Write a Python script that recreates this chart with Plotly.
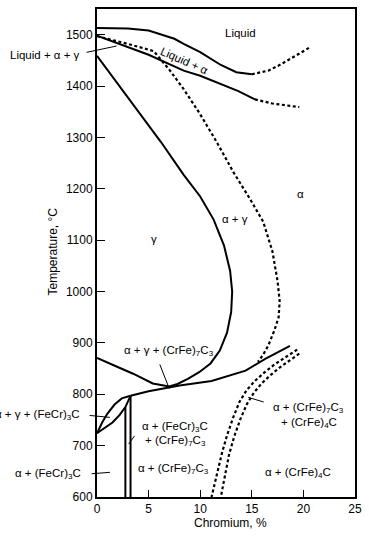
import plotly.graph_objects as go

# ---------------- data (Cr %, Temperature °C) ----------------
liq_x = [0, 3, 5, 7.5, 8.4, 10, 12, 13.5, 15]
liq_t = [1513, 1512, 1508, 1492, 1482, 1466, 1441, 1427, 1423]
liq_dash_x = [15, 16.6, 17.8, 20.6]
liq_dash_t = [1423, 1430, 1442, 1475]

sol_x = [0, 5, 8.4, 10, 13.7, 15.3]
sol_t = [1498, 1461, 1430, 1420, 1390, 1374]
sol_dash_x = [15.3, 17, 19.6]
sol_dash_t = [1374, 1366, 1359]

ag_x = [0, 3, 5.5, 6.2, 7, 8.4, 10, 11.6, 13.2, 14.8, 16.1, 17.0, 17.5, 17.7, 17.6, 17.2, 16.6, 16.1, 15.6]
ag_t = [1497, 1482, 1468, 1452, 1432, 1394, 1345, 1291, 1233, 1181, 1136, 1078, 1020, 981, 950, 925, 895, 877, 863]

gam_x = [0, 2, 4, 6.2, 8.4, 10, 11.3, 12.3, 12.9, 13.1, 13.0, 12.6, 11.9, 11.0, 9.9, 8.8, 7.8, 7.0, 5.4, 3.5, 2, 0]
gam_t = [1459, 1405, 1350, 1291, 1227, 1185, 1140, 1090, 1040, 1000, 960, 920, 885, 860, 843, 830, 820, 815, 821, 840, 853, 871]

d_x = [3.25, 5, 8, 11.1, 14.4, 16.3, 18.7]
d_t = [797, 806, 817, 826, 846, 869, 894]

lens_up_x = [0, 0.5, 1.0, 1.7, 2.4, 3.25]
lens_up_t = [724, 745, 762, 780, 792, 797]
lens_lo_x = [0, 0.8, 1.5, 2.2, 2.75, 3.25]
lens_lo_t = [724, 735, 745, 760, 775, 797]

v1_x = [2.75, 2.75]
v1_t = [600, 775]
v2_x = [3.25, 3.25]
v2_t = [600, 797]

p1_x = [19.4, 18.2, 17.2, 16.2, 15.3, 14.5, 13.8, 13.2, 12.6, 12.1, 11.6, 11.1]
p1_t = [887, 872, 858, 842, 826, 808, 785, 755, 720, 685, 645, 600]
p2_x = [19.6, 18.7, 17.7, 16.8, 16.0, 15.2, 14.5, 13.9, 13.3, 12.8, 12.4, 12.0]
p2_t = [879, 866, 852, 837, 822, 803, 780, 752, 718, 683, 645, 600]

x_ticks = [0, 5, 10, 15, 20, 25]
y_ticks = [600, 700, 800, 900, 1000, 1100, 1200, 1300, 1400, 1500]

# labels inside the plot: (text, x, T, angle)
labels = [
    ("Liquid", 13.9, 1504, 0),
    ("Liquid + α", 8.5, 1449, 24),
    ("γ", 5.56, 1103, 0),
    ("α + γ", 13.4, 1142, 0),
    ("α", 19.7, 1190, 0),
    ("α + γ + (CrFe)<sub>7</sub>C<sub>3</sub>", 7.0, 885, 0),
    ("α + (FeCr)<sub>3</sub>C", 7.57, 737, 0),
    ("+ (CrFe)<sub>7</sub>C<sub>3</sub>", 7.6, 709, 0),
    ("α + (CrFe)<sub>7</sub>C<sub>3</sub>", 7.4, 654, 0),
    ("α + (CrFe)<sub>7</sub>C<sub>3</sub>", 20.5, 774, 0),
    ("+ (CrFe)<sub>4</sub>C", 20.5, 745, 0),
    ("α + (CrFe)<sub>4</sub>C", 19.5, 646, 0),
]
# labels left of the axis: (text, paper x of right edge, T)
side_labels = [
    ("Liquid + α + γ", -0.0575, 1461),
    ("α + γ + (FeCr)<sub>3</sub>C", -0.0575, 759),
    ("α + (FeCr)<sub>3</sub>C", -0.054, 645),
]
# leader lines: (tail x, tail T, tip x, tip T)
leaders = [
    (-1.15, 1465, 1.9, 1478),
    (-0.86, 759, 1.25, 755),
    (-0.67, 645, 1.25, 648),
    (6.03, 861, 7.0, 811),
    (3.74, 722, 3.07, 703),
    (16.3, 784, 14.65, 794),
]

# ---------------- figure ----------------
fig = go.Figure()
solid = dict(color="black", width=2)
dotted = dict(color="black", width=2.2, dash="3px,2.5px")

def add(x, y, line):
    fig.add_trace(go.Scatter(x=x, y=y, mode="lines", line=line, showlegend=False, hoverinfo="skip"))

add(liq_x, liq_t, solid)
add(liq_dash_x, liq_dash_t, dotted)
add(sol_x, sol_t, solid)
add(sol_dash_x, sol_dash_t, dotted)
add(ag_x, ag_t, dotted)
add(gam_x, gam_t, solid)
add(d_x, d_t, solid)
add(lens_up_x, lens_up_t, solid)
add(lens_lo_x, lens_lo_t, solid)
add(v1_x, v1_t, solid)
add(v2_x, v2_t, solid)
add(p1_x, p1_t, dotted)
add(p2_x, p2_t, dotted)

font = dict(family="Arial", size=12, color="black")
sfont = dict(family="Arial", size=11.5, color="black")
anns = []
for text, x, t, ang in labels:
    anns.append(dict(text=text, x=x, y=t, xref="x", yref="y", xanchor="center", yanchor="middle",
                     showarrow=False, textangle=ang, font=sfont))
for text, px, t in side_labels:
    anns.append(dict(text=text, x=px, y=t, xref="paper", yref="y", xanchor="right", yanchor="middle",
                     showarrow=False, font=sfont))
for tx, tt, hx, ht in leaders:
    anns.append(dict(text="", x=hx, y=ht, ax=tx, ay=tt, xref="x", yref="y", axref="x", ayref="y",
                     showarrow=True, arrowhead=0, arrowwidth=1, arrowcolor="black", standoff=0))
anns.append(dict(text="Temperature, °C", x=-0.1686, y=0.502, xref="paper", yref="paper",
                 xanchor="center", yanchor="middle", showarrow=False, textangle=-90, font=font))
anns.append(dict(text="Chromium, %", x=0.517, y=-0.053, xref="paper", yref="paper",
                 xanchor="center", yanchor="middle", showarrow=False, font=font))

fig.update_layout(
    width=369, height=536,
    margin=dict(l=97, r=11, t=7, b=39),
    paper_bgcolor="white", plot_bgcolor="white",
    annotations=anns,
    xaxis=dict(range=[0, 25], tickvals=x_ticks, ticks="inside", ticklen=7, tickwidth=1.2,
               tickcolor="black", showline=True, linecolor="black", linewidth=1.5, mirror=True,
               showgrid=False, zeroline=False, tickfont=font),
    yaxis=dict(range=[600, 1550], tickvals=y_ticks, ticks="inside", ticklen=8, tickwidth=1.2,
               tickcolor="black", showline=True, linecolor="black", linewidth=2, mirror=True,
               showgrid=False, zeroline=False, tickfont=font),
)
fig.write_html("out.html")
